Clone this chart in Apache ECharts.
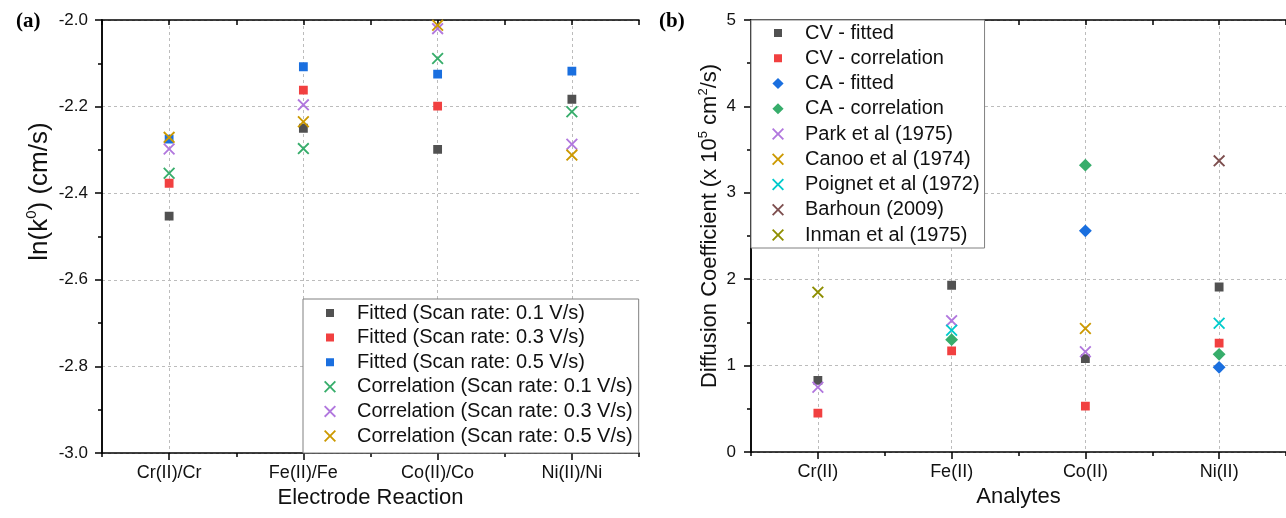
<!DOCTYPE html>
<html>
<head>
<meta charset="utf-8">
<script src="https://cdn.jsdelivr.net/npm/echarts@6/dist/echarts.min.js"></script>
<style>html,body{margin:0;padding:0;background:#fff}#c{width:1286px;height:518px}</style>
</head>
<body>
<div id="c"></div>
<script>
// ---------- data: panel (a) ----------
const categoriesA = ['Cr(II)/Cr', 'Fe(II)/Fe', 'Co(II)/Co', 'Ni(II)/Ni'];
const namesA = ['Fitted (Scan rate: 0.1 V/s)', 'Fitted (Scan rate: 0.3 V/s)', 'Fitted (Scan rate: 0.5 V/s)',
  'Correlation (Scan rate: 0.1 V/s)', 'Correlation (Scan rate: 0.3 V/s)', 'Correlation (Scan rate: 0.5 V/s)'];
const fitted01 = [-2.453, -2.250, -2.299, -2.183];
const fitted03 = [-2.377, -2.162, -2.199, null];
const fitted05 = [-2.275, -2.108, -2.125, -2.118];
const corr01 = [-2.354, -2.297, -2.089, -2.212];
const corr03 = [-2.298, -2.196, -2.020, -2.287];
const corr05 = [-2.271, -2.235, -2.012, -2.312];

// ---------- data: panel (b) ----------
const categoriesB = ['Cr(II)', 'Fe(II)', 'Co(II)', 'Ni(II)'];
const namesB = ['CV - fitted', 'CV - correlation', 'CA - fitted', 'CA - correlation', 'Park et al (1975)',
  'Canoo et al (1974)', 'Poignet et al (1972)', 'Barhoun (2009)', 'Inman et al (1975)'];
const cvFitted = [0.83, 1.93, 1.08, 1.91];
const cvCorr = [0.45, 1.17, 0.53, 1.26];
const caFitted = [null, null, 2.56, 0.98];
const caCorr = [null, 1.30, 3.32, 1.13];
const park1975 = [0.75, 1.52, 1.16, null];
const canoo1974 = [null, null, 1.43, null];
const poignet1972 = [null, 1.41, null, 1.49];
const barhoun2009 = [null, null, null, 3.37];
const inman1975 = [1.85, null, null, null];

// ---------- styling ----------
const FONT = '"Liberation Sans", Arial, sans-serif';
const C = {gray:'#515151', red:'#F14040', blue:'#1A6FDF', green:'#37AD6B', purple:'#B177DE',
  gold:'#CC9900', cyan:'#00CBCC', brown:'#7D4E4E', olive:'#8E8E00'};
const CORNERS = 'M0,0L0.01,0Z M100,100L99.99,100Z ';
const SQ = 'path://' + CORNERS + 'M30,30L70,30L70,70L30,70Z';
const XS = 'path://' + CORNERS + 'M20,26.5L26.5,20L50,43.5L73.5,20L80,26.5L56.5,50L80,73.5L73.5,80L50,56.5L26.5,80L20,73.5L43.5,50Z';
const DM = 'path://' + CORNERS + 'M50,22L78,50L50,78L22,50Z';
const SIZE = {};
SIZE[SQ] = 22; SIZE[XS] = 20; SIZE[DM] = 23;

const axisLineStyle = {color:'#000', width:1.5};
const gridLine = {show:true, lineStyle:{type:[3,3], color:'#bcbcbc', width:1}};
const tickLabelX = {fontSize:18, color:'#111', fontFamily:FONT};
const tickLabelY = {fontSize:17, color:'#111', fontFamily:FONT};
const nameStyle = {fontSize:22, color:'#111', fontFamily:FONT};

function scatter(name, data, color, symbol, xi, yi) {
  return {type:'scatter', name, data, xAxisIndex:xi, yAxisIndex:yi, symbol, symbolSize:SIZE[symbol],
    itemStyle:{color, opacity:1}, emphasis:{disabled:true}};
}
function bottomMain(gi, cats, name) {
  return {gridIndex:gi, type:'category', data:cats, position:'bottom', boundaryGap:true,
    axisLine:{show:true, lineStyle:axisLineStyle},
    axisTick:{show:true, alignWithLabel:true, length:7, lineStyle:axisLineStyle},
    axisLabel:Object.assign({interval:0, margin:11}, tickLabelX),
    splitLine:Object.assign({alignWithLabel:true}, gridLine),
    name, nameLocation:'middle', nameGap:31, nameTextStyle:nameStyle};
}
function bottomAux(gi) {
  return {gridIndex:gi, type:'value', min:0, max:4, interval:1, position:'bottom',
    axisLine:{show:false}, axisTick:{show:true, length:4, lineStyle:axisLineStyle},
    axisLabel:{show:false}, splitLine:{show:false}};
}
function topAxis(gi) {
  return {gridIndex:gi, type:'value', min:0, max:8, interval:1, position:'top',
    axisLine:{show:true, lineStyle:axisLineStyle}, axisTick:{show:true, inside:true, length:5, lineStyle:axisLineStyle},
    axisLabel:{show:false}, splitLine:{show:false}};
}
function leftAxis(gi, min, max, interval, digits, name, gap, shift, margin, nameSize, supSize) {
  return {gridIndex:gi, type:'value', min, max, interval, position:'left',
    axisLine:{show:true, lineStyle:axisLineStyle},
    axisTick:{show:true, length:7, lineStyle:axisLineStyle},
    minorTick:{show:true, splitNumber:2, length:4, lineStyle:axisLineStyle},
    axisLabel:Object.assign({margin, formatter:v => Number(v).toFixed(digits)}, tickLabelY),
    splitLine:gridLine,
    name, nameLocation:'middle', nameGap:gap,
    nameTextStyle:Object.assign({}, nameStyle, {fontSize:nameSize, padding:[0,0,0,shift], lineHeight:nameSize + 4,
      rich:{sup:{fontSize:supSize, fontFamily:FONT, color:'#111', verticalAlign:'top', lineHeight:nameSize + 4}}})};
}
function rightAxis(gi, min, max, interval) {
  return {gridIndex:gi, type:'value', min, max, interval, position:'right',
    axisLine:{show:true, lineStyle:axisLineStyle},
    axisTick:{show:true, inside:true, length:7, lineStyle:axisLineStyle},
    minorTick:{show:true, splitNumber:2, length:4, lineStyle:axisLineStyle},
    axisLabel:{show:false}, splitLine:{show:false}};
}

const symA = [SQ, SQ, SQ, XS, XS, XS];
const colA = [C.gray, C.red, C.blue, C.green, C.purple, C.gold];
const dataA = [fitted01, fitted03, fitted05, corr01, corr03, corr05];
const symB = [SQ, SQ, DM, DM, XS, XS, XS, XS, XS];
const colB = [C.gray, C.red, C.blue, C.green, C.purple, C.gold, C.cyan, C.brown, C.olive];
const dataB = [cvFitted, cvCorr, caFitted, caCorr, park1975, canoo1974, poignet1972, barhoun2009, inman1975];

const series = [];
namesA.forEach((n, i) => series.push(scatter(n, dataA[i], colA[i], symA[i], 0, 0)));
namesB.forEach((n, i) => series.push(scatter(n, dataB[i], colB[i], symB[i], 3, 2)));

const legendText = {fontSize:20, fontFamily:FONT, color:'#111', lineHeight:20};
const serif = '"Liberation Serif", "Times New Roman", serif';
const option = {
  animation:false,
  backgroundColor:'#fff',
  title:[
    {text:'(a)', left:11, top:6, textStyle:{fontFamily:serif, fontWeight:'bold', fontSize:21, color:'#000'}},
    {text:'(b)', left:654, top:6, textStyle:{fontFamily:serif, fontWeight:'bold', fontSize:21, color:'#000'}}
  ],
  grid:[
    {left:102, top:20, width:537, height:433},
    {left:751, top:20, width:536, height:432}
  ],
  xAxis:[
    bottomMain(0, categoriesA, 'Electrode Reaction'), bottomAux(0), topAxis(0),
    bottomMain(1, categoriesB, 'Analytes'), bottomAux(1), topAxis(1)
  ],
  yAxis:[
    leftAxis(0, -3, -2, 0.2, 1, 'ln(k{sup|0}) (cm/s)', 44, 90, 14, 26, 15), rightAxis(0, -3, -2, 0.2),
    leftAxis(1, 0, 5, 1, 0, 'Diffusion Coefficient (x 10{sup|5} cm{sup|2}/s)', 28, 20, 15, 22, 13), rightAxis(1, 0, 5, 1)
  ],
  legend:[
    {left:303, top:299, orient:'vertical', padding:[4,6,7,17], itemWidth:44, itemHeight:20, itemGap:4.6,
      backgroundColor:'#fff', borderColor:'#808080', borderWidth:1, selectedMode:false, textStyle:legendText,
      data:namesA.map((n, i) => ({name:n, icon:symA[i]}))},
    {left:751, top:20, orient:'vertical', padding:[3,5,3,17], itemWidth:44, itemHeight:20, itemGap:5.25,
      backgroundColor:'#fff', borderColor:'#808080', borderWidth:1, selectedMode:false, textStyle:legendText,
      data:namesB.map((n, i) => ({name:n, icon:symB[i]}))}
  ],
  series
};
const chart = echarts.init(document.getElementById('c'), null, {renderer:'canvas'});
chart.setOption(option);
</script>
</body>
</html>
